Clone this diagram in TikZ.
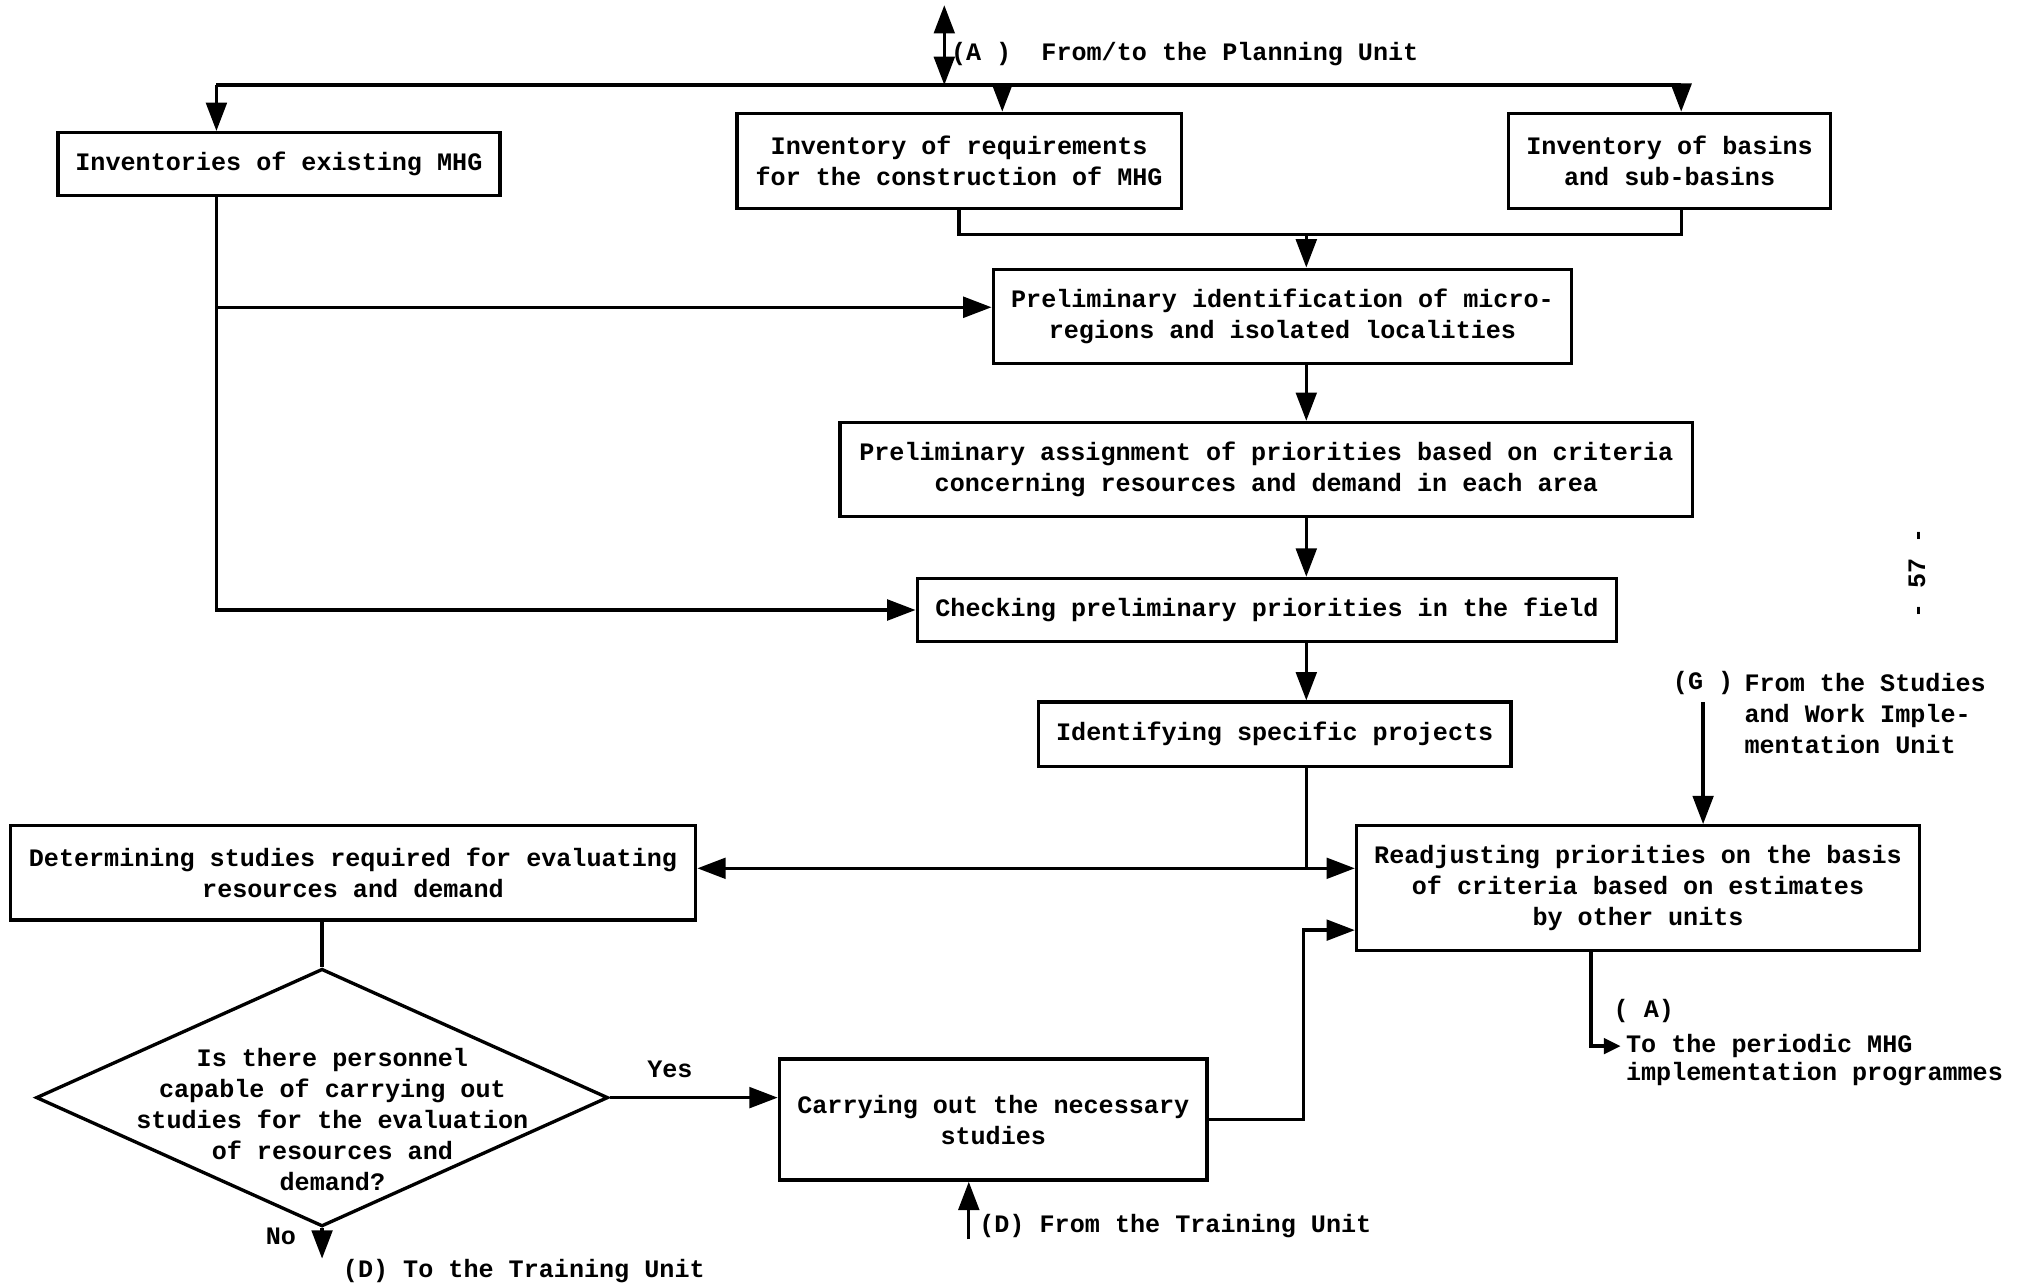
\documentclass[tikz,border=0pt]{standalone}
\usepackage{fontspec}
\setmonofont{Liberation Mono}
\usetikzlibrary{arrows.meta,shapes.geometric}

\begin{document}
\begin{tikzpicture}[x=1pt,y=-1pt,
    every node/.style={font=\ttfamily\bfseries\fontsize{19.5}{24}\selectfont,inner sep=0pt},
    box/.style={draw,line width=2.6pt,align=center},
    link/.style={line width=2.6pt},
    arr/.style={link,-{Triangle[length=22pt,width=16pt]}},
    arrsmall/.style={link,-{Triangle[length=13pt,width=12pt]}},
    dbl/.style={link,{Triangle[length=22pt,width=16pt]}-{Triangle[length=22pt,width=16pt]}}]
    \useasboundingbox (0,0) rectangle (1568,999);

    \node[box,minimum width=343,minimum height=49] (inv) at (216.5,127.5) {Inventories of existing MHG};
    \node[box,minimum width=345,minimum height=74] (req) at (744.5,125) {Inventory of requirements\\for the construction of MHG};
    \node[box,minimum width=250,minimum height=74] (bas) at (1296,125) {Inventory of basins\\and sub-basins};
    \node[box,minimum width=449,minimum height=73] (ident) at (995.5,245.5) {Preliminary identification of micro-\\regions and isolated localities};
    \node[box,minimum width=662,minimum height=73] (prio) at (983,364.5) {Preliminary assignment of priorities based on criteria\\concerning resources and demand in each area};
    \node[box,minimum width=543,minimum height=49] (check) at (983.5,473.5) {Checking preliminary priorities in the field};
    \node[box,minimum width=367,minimum height=50] (proj) at (989.5,570) {Identifying specific projects};
    \node[box,minimum width=532,minimum height=73] (det) at (274,677.5) {Determining studies required for evaluating\\resources and demand};
    \node[box,minimum width=437,minimum height=97] (readj) at (1271.5,689.5) {Readjusting priorities on the basis\\of criteria based on estimates\\by other units};
    \node[box,minimum width=332,minimum height=94,text depth=-10pt] (carry) at (771,869) {Carrying out the necessary\\studies};
    \node[diamond,draw,line width=2.6pt,minimum width=444,minimum height=200] (q) at (250,852) {};
    \node[align=center] (qtext) at (258,869) {Is there personnel\\capable of carrying out\\studies for the evaluation\\of resources and\\demand?};

    \node[anchor=west] (plan) at (738,42) {(A~)~~From/to the Planning Unit};
    \node (g) at (1322,530) {(G~)};
    \node[anchor=west,align=left] (gtext) at (1354,554) {From the Studies\\and Work Imple-\\mentation Unit};
    \node (outlbl) at (1276,785) {(~A)};
    \node[anchor=west,align=left,font=\ttfamily\bfseries\fontsize{19.5}{22}\selectfont] (outtext) at (1262,823) {To the periodic MHG\\implementation programmes};
    \node (yes) at (520,830) {Yes};
    \node (no) at (218,960) {No};
    \node[anchor=west] (dto) at (266,987) {(D) To the Training Unit};
    \node[anchor=west] (dfrom) at (760,952) {(D) From the Training Unit};
    \node[rotate=90] (page) at (1488,445) {- 57 -};

    \coordinate (pu) at (733,4);
    \coordinate (busc) at (733,66);
    \coordinate (busl) at (168,66);
    \coordinate (busm) at (778,66);
    \coordinate (busr) at (1305,66);
    \coordinate (join) at (1014,182);
    \coordinate (identin) at ([yshift=7pt]ident.west);
    \coordinate (split) at (1014,674);
    \coordinate (gsrc) at (1322,545);
    \coordinate (drop) at (1235,812);
    \coordinate (outA) at (1258,812);
    \coordinate (rise) at (1012,722);
    \coordinate (noend) at (250,977);
    \coordinate (dsrc) at (752,962);

    \draw[dbl] (pu) -- (busc);
    \draw[link] (busl) -- (busr);
    \draw[arr] (busl) -- (busl |- inv.north);
    \draw[arr] (busm) -- (busm |- req.north);
    \draw[arr] (busr) -- (busr |- bas.north);
    \draw[link] (req.south) |- (join) -| (busr |- bas.south);
    \draw[arr] (join) -- (join |- ident.north);
    \draw[arr] (busl |- inv.south) |- (check.west);
    \draw[arr] (busl |- identin) -- (identin);
    \draw[arr] (join |- ident.south) -- (join |- prio.north);
    \draw[arr] (join |- prio.south) -- (join |- check.north);
    \draw[arr] (join |- check.south) -- (join |- proj.north);
    \draw[link] (join |- proj.south) -- (split);
    \draw[arr] (split) -- (det.east |- split);
    \draw[arr] (split) -- (readj.west |- split);
    \draw[arr] (gsrc) -- (gsrc |- readj.north);
    \draw[arrsmall] (drop |- readj.south) |- (outA);
    \draw[arr] (carry.east) -| (rise) -- (readj.west |- rise);
    \draw[link] (det.south -| q.north) -- (q.north);
    \draw[arr] (q.east) -- (q.east -| carry.west);
    \draw[arr] (q.south) -- (noend);
    \draw[arr] (dsrc) -- (dsrc |- carry.south);
  \end{tikzpicture}
\end{document}
